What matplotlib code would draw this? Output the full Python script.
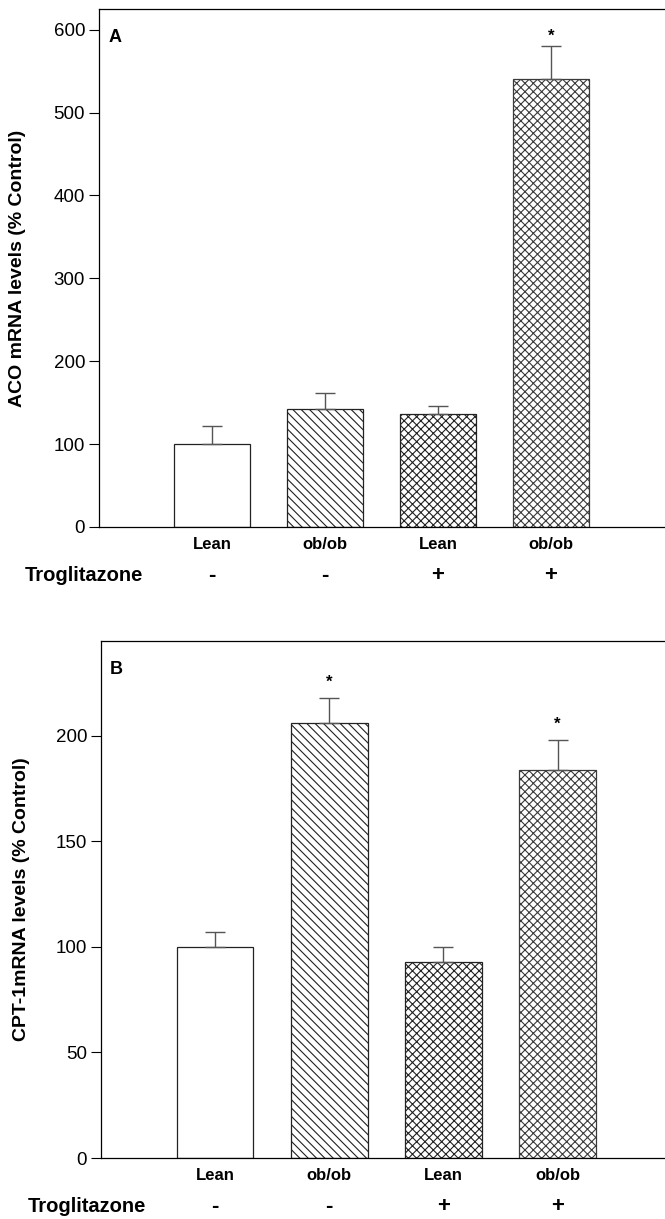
import matplotlib
matplotlib.use("Agg")
import matplotlib.pyplot as plt

plt.rcParams['font.family'] = ['Liberation Sans', 'DejaVu Sans']
plt.rcParams['hatch.linewidth'] = 0.8

groups = ["Lean", "ob/ob", "Lean", "ob/ob"]
trog = ["-", "-", "+", "+"]
hatches = ["", "\\\\\\\\", "xxxx", "xxxx"]

aco_mean = [100, 142, 136, 541]
aco_err = [22, 20, 10, 39]
aco_star = [False, False, False, True]

cpt_mean = [100, 206, 93, 184]
cpt_err = [7, 12, 7, 14]
cpt_star = [False, True, False, True]

x = [1, 2, 3, 4]

fig = plt.figure(figsize=(6.65, 12.19), dpi=100)
ax_a = fig.add_axes([0.149, 0.5677, 0.849, 0.4249])
ax_b = fig.add_axes([0.152, 0.05, 0.846, 0.4244])


def draw_panel(ax, mean, err, star, ylim, yticks, ylabel, letter, xmax, star_off, label_x):
    bars = ax.bar(x, mean, width=0.67, color="white", edgecolor="#222222",
                  linewidth=0.9, zorder=2)
    for b, h in zip(bars, hatches):
        b.set_hatch(h)
    # last bar prints a bit greyer in the original
    bars[3].set_edgecolor("#3a3a3a")
    ax.errorbar(x, mean, yerr=[[0] * 4, err], fmt="none", ecolor="#555555",
                elinewidth=1.0, capsize=7, capthick=1.0, zorder=3)
    for xi, m, e, s in zip(x, mean, err, star):
        if s:
            ax.annotate("*", (xi, m + e), xytext=(0, star_off), textcoords="offset points",
                        ha="center", va="center", fontsize=12, fontweight="bold")
    ax.set_xlim(0, xmax)
    ax.set_ylim(*ylim)
    ax.set_yticks(yticks)
    ax.tick_params(axis="y", direction="out", length=7, width=0.8, labelsize=13.5, pad=3)
    ax.set_xticks(x)
    ax.set_xticklabels(groups, fontsize=12, fontweight="bold")
    ax.tick_params(axis="x", length=0, pad=7)
    ax.spines["right"].set_visible(False)
    for sp in ["left", "top", "bottom"]:
        ax.spines[sp].set_linewidth(0.9)
    ax.set_ylabel(ylabel, fontsize=14, fontweight="bold")
    ax.yaxis.set_label_coords(label_x, 0.5)
    ax.text(0.016, 0.945, letter, transform=ax.transAxes, fontsize=13,
            fontweight="bold", ha="left", va="center")
    ax.text(-0.131, -0.093, "Troglitazone", transform=ax.transAxes, fontsize=14.5,
            fontweight="bold", ha="left", va="center")
    for xi, t in zip(x, trog):
        ax.text(xi, -0.093, t, transform=ax.get_xaxis_transform(), fontsize=16,
                fontweight="bold", ha="center", va="center")


draw_panel(ax_a, aco_mean, aco_err, aco_star, (0, 625), [0, 100, 200, 300, 400, 500, 600],
           "ACO mRNA levels (% Control)", "A", 5.0, 7, -0.13)
draw_panel(ax_b, cpt_mean, cpt_err, cpt_star, (0, 245), [0, 50, 100, 150, 200],
           "CPT-1mRNA levels (% Control)", "B", 4.93, 11, -0.126)

fig.savefig("out.png", dpi=100)
